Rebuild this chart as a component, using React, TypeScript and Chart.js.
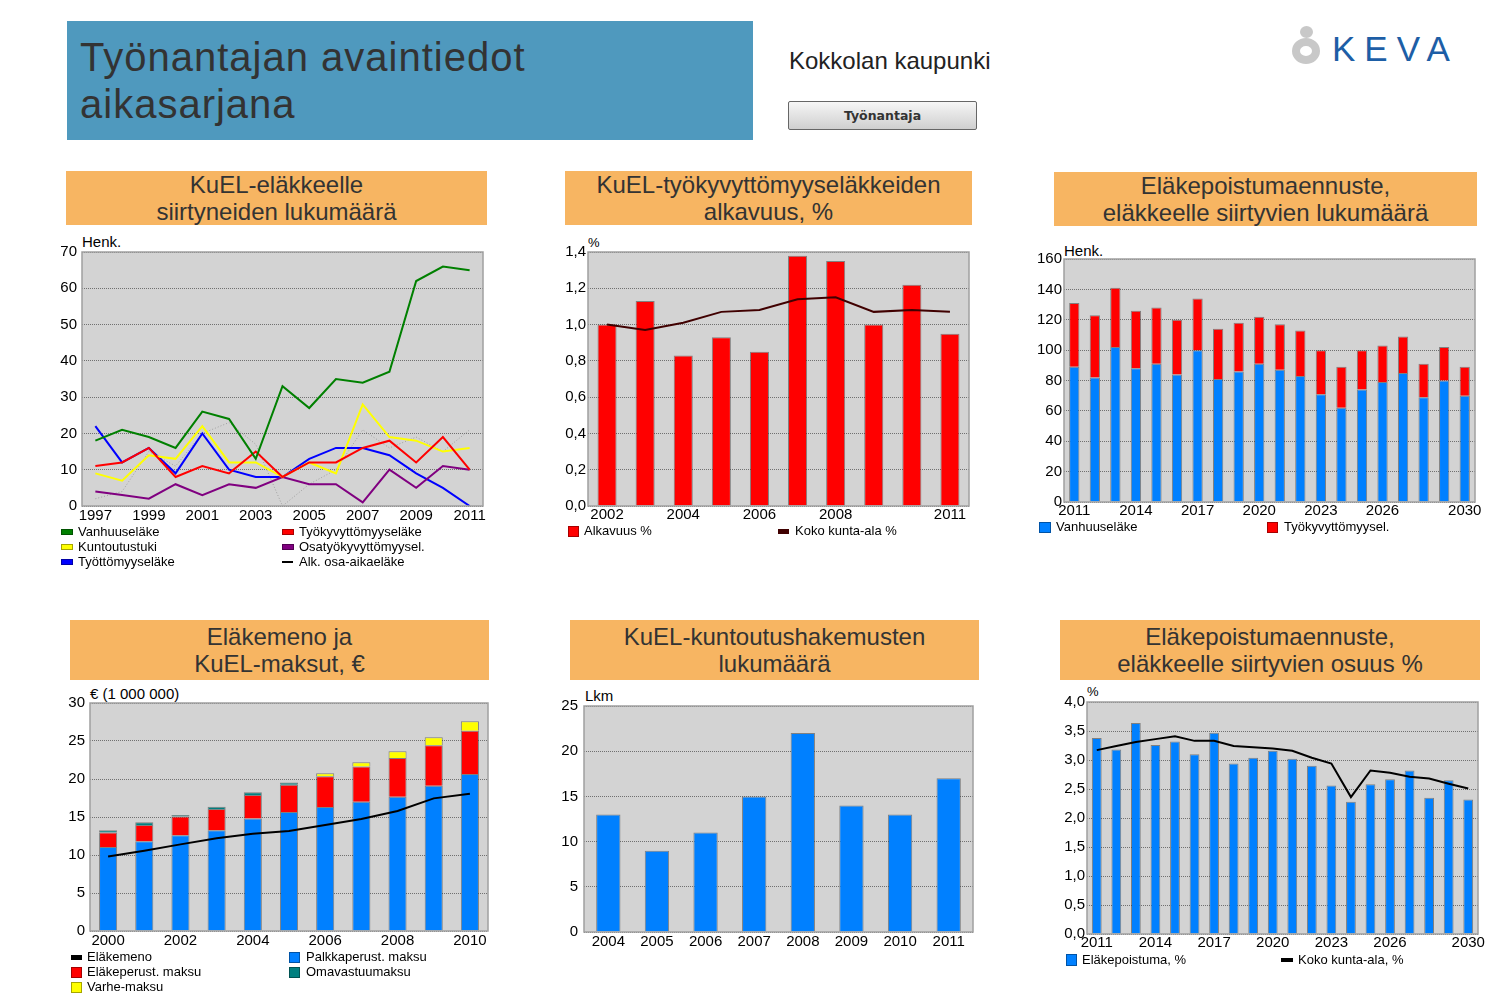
import React, { useEffect, useRef } from 'react';
import { Chart, registerables } from 'chart.js';
Chart.register(...registerables);

const FONT = '"Liberation Sans", Arial, sans-serif';

// ---------- Chart 1: KuEL-eläkkeelle siirtyneiden lukumäärä ----------
const years1 = ['1997','1998','1999','2000','2001','2002','2003','2004','2005','2006','2007','2008','2009','2010','2011'];
const ticks1 = ['1997','1999','2001','2003','2005','2007','2009','2011'];
const vanhuus1 = [18, 21, 19, 16, 26, 24, 13, 33, 27, 35, 34, 37, 62, 66, 65];
const tyokyv1 = [11, 12, 16, 8, 11, 9, 15, 8, 12, 12, 16, 18, 12, 19, 10];
const kuntoutus1 = [9, 7, 14, 13, 22, 12, 12, 8, 12, 9, 28, 19, 18, 15, 16];
const tyotto1 = [22, 12, 16, 9, 20, 10, 8, 8, 13, 16, 16, 14, 9, 5, 0];
const osatyo1 = [4, 3, 2, 6, 3, 6, 5, 8, 6, 6, 1, 10, 5, 11, 10];
const osaaika1 = [2, 4, 15, 11, 20, 23, 17, 0, 6, 10, 21, 16, 19, 15, 21];
const names1 = ['Vanhuuseläke', 'Työkyvyttömyyseläke', 'Kuntoutustuki', 'Osatyökyvyttömyysel.', 'Työttömyyseläke', 'Alk. osa-aikaeläke'];

// ---------- Chart 2: KuEL-työkyvyttömyyseläkkeiden alkavuus ----------
const years2 = ['2002','2003','2004','2005','2006','2007','2008','2009','2010','2011'];
const ticks2 = ['2002','2004','2006','2008','2011'];
const alkavuus2 = [1.0, 1.13, 0.83, 0.93, 0.85, 1.38, 1.35, 1.0, 1.22, 0.95];
const koko2 = [1.0, 0.97, 1.01, 1.07, 1.08, 1.14, 1.15, 1.07, 1.08, 1.07];
const names2 = ['Alkavuus %', 'Koko kunta-ala %'];

// ---------- Chart 3: Eläkepoistumaennuste, lukumäärä ----------
const years3 = ['2011','2012','2013','2014','2015','2016','2017','2018','2019','2020','2021','2022','2023','2024','2025','2026','2027','2028','2029','2030'];
const ticks3 = ['2011','2014','2017','2020','2023','2026','2030'];
const vanhuus3 = [89, 82, 102, 88, 91, 84, 100, 81, 86, 91, 87, 83, 71, 62, 74, 79, 85, 69, 80, 70];
const tyokyv3 = [42, 41, 39, 38, 37, 36, 34, 33, 32, 31, 30, 30, 29, 27, 26, 24, 24, 22, 22, 19];
const names3 = ['Vanhuuseläke', 'Työkyvyttömyysel.'];

// ---------- Chart 4: Eläkemeno ja KuEL-maksut ----------
const years4 = ['2000','2001','2002','2003','2004','2005','2006','2007','2008','2009','2010'];
const ticks4 = ['2000','2002','2004','2006','2008','2010'];
const palkka4 = [11.05, 11.8, 12.6, 13.25, 14.8, 15.65, 16.3, 17.0, 17.65, 19.1, 20.65];
const elakeper4 = [1.9, 2.15, 2.45, 2.8, 3.1, 3.6, 4.05, 4.65, 5.1, 5.35, 5.7];
const omavastuu4 = [0.3, 0.35, 0.2, 0.3, 0.35, 0.3, 0, 0, 0, 0, 0];
const varhe4 = [0, 0, 0, 0, 0, 0, 0.4, 0.55, 0.9, 1.05, 1.25];
const elakemeno4 = [9.8, 10.55, 11.4, 12.2, 12.8, 13.15, 13.95, 14.75, 15.8, 17.45, 18.05];
const names4 = ['Eläkemeno', 'Palkkaperust. maksu', 'Eläkeperust. maksu', 'Omavastuumaksu', 'Varhe-maksu'];

// ---------- Chart 5: KuEL-kuntoutushakemusten lukumäärä ----------
const years5 = ['2004','2005','2006','2007','2008','2009','2010','2011'];
const hakemukset5 = [13, 9, 11, 15, 22, 14, 13, 17];

// ---------- Chart 6: Eläkepoistumaennuste, osuus % ----------
const years6 = years3;
const ticks6 = ticks3;
const poistuma6 = [3.38, 3.18, 3.64, 3.26, 3.32, 3.10, 3.47, 2.94, 3.04, 3.16, 3.02, 2.90, 2.56, 2.28, 2.58, 2.67, 2.82, 2.35, 2.65, 2.32];
const koko6 = [3.17, 3.24, 3.31, 3.36, 3.41, 3.33, 3.33, 3.24, 3.22, 3.20, 3.16, 3.04, 2.94, 2.36, 2.82, 2.78, 2.71, 2.68, 2.59, 2.51];
const names6 = ['Eläkepoistuma, %', 'Koko kunta-ala, %'];

const BLUE = '#0080ff';
const RED = '#ff0000';
const BAR_BORDER = 'rgba(60,60,60,0.55)';

type Rect = [number, number, number, number];
const YW = 50, PT = 12, PR = 18, XH = 24;

const plotFrame = {
  id: 'plotFrame',
  beforeDraw(chart: any) {
    const { ctx, chartArea: a } = chart;
    ctx.save();
    ctx.fillStyle = '#d3d3d3';
    ctx.fillRect(a.left, a.top, a.right - a.left, a.bottom - a.top);
    ctx.restore();
  },
  afterDraw(chart: any) {
    const { ctx, chartArea: a } = chart;
    ctx.save();
    ctx.strokeStyle = '#a0a0a0';
    ctx.lineWidth = 1.5;
    ctx.strokeRect(a.left, a.top, a.right - a.left, a.bottom - a.top);
    ctx.restore();
  },
};

function opts(o: { yMax: number; yStep: number; yPad: number; xPad: number; labels: string[]; shown: string[]; stacked?: boolean; decimals?: boolean }) {
  return {
    responsive: false,
    maintainAspectRatio: false,
    animation: false,
    layout: { padding: { top: PT, right: PR, left: 0, bottom: 0 } },
    plugins: { legend: { display: false }, tooltip: { enabled: false } },
    scales: {
      x: {
        type: 'category',
        offset: true,
        stacked: !!o.stacked,
        grid: { display: false, drawTicks: false },
        border: { display: false },
        ticks: {
          autoSkip: false, maxRotation: 0, minRotation: 0, padding: o.xPad, color: '#000',
          font: { family: FONT, size: 15 },
          callback: (_v: any, i: number) => (o.shown.includes(o.labels[i]) ? o.labels[i] : ''),
        },
        afterFit: (s: any) => { s.height = XH; s.paddingLeft = 0; s.paddingRight = 0; },
      },
      y: {
        min: 0, max: o.yMax, stacked: !!o.stacked,
        ticks: {
          stepSize: o.yStep, padding: o.yPad, color: '#000', font: { family: FONT, size: 15 },
          callback: (v: any) => (o.decimals ? Number(v).toFixed(1).replace('.', ',') : String(Math.round(Number(v)))),
        },
        grid: { color: '#707070', lineWidth: 1, drawTicks: false },
        border: { display: false, dash: [1, 1] },
        afterFit: (s: any) => { s.width = YW; s.paddingTop = 0; s.paddingBottom = 0; },
      },
    },
  };
}

function ChartCanvas({ plot, build }: { plot: Rect; build: () => any }) {
  const ref = useRef<HTMLCanvasElement>(null);
  const [L, T, R, B] = plot;
  const w = R - L + YW + PR;
  const h = B - T + PT + XH;
  useEffect(() => {
    const cfg = build();
    cfg.plugins = [plotFrame];
    const chart = new Chart(ref.current as HTMLCanvasElement, cfg);
    return () => chart.destroy();
  }, []);
  return <canvas ref={ref} width={w} height={h} style={{ position: 'absolute', left: L - YW, top: T - PT, width: w, height: h }} />;
}

function Txt({ x, y, size, children, color = '#000', weight = 400, family = FONT }: any) {
  return (
    <div style={{ position: 'absolute', left: x, top: y - size * 0.6, fontSize: size, lineHeight: `${size * 1.2}px`, color, whiteSpace: 'nowrap', fontFamily: family, fontWeight: weight }}>
      {children}
    </div>
  );
}

function Leg({ bx, y, bw, bh, color, tx, label, border = true }: any) {
  return (
    <>
      <div style={{ position: 'absolute', left: bx, top: Math.round(y - bh / 2), width: bw, height: bh, background: color, border: border ? '1px solid rgba(0,0,0,0.35)' : 'none', boxSizing: 'border-box' }} />
      <Txt x={tx} y={y} size={13}>{label}</Txt>
    </>
  );
}

function PanelTitle({ x, y, w, h, lines }: any) {
  return (
    <div style={{ position: 'absolute', left: x, top: y, width: w, height: h, background: '#f7b562', display: 'flex', flexDirection: 'column', justifyContent: 'center', alignItems: 'center', fontFamily: FONT, fontSize: 24, lineHeight: '27px', color: '#333' }}>
      {lines.map((l: string, i: number) => <div key={i} style={{ whiteSpace: 'nowrap' }}>{l}</div>)}
    </div>
  );
}

const lineDs = (label: string, data: number[], color: string, extra: any = {}) => ({
  type: 'line', label, data, borderColor: color, backgroundColor: color, borderWidth: 2, pointRadius: 0, tension: 0, fill: false, ...extra,
});
const barDs = (label: string, data: number[], color: string, extra: any = {}) => ({
  type: 'bar', label, data, backgroundColor: color, borderColor: BAR_BORDER, borderWidth: 1, barPercentage: 0.5, categoryPercentage: 1, ...extra,
});

const C1: Rect = [82, 252, 483, 506];
const C2: Rect = [588, 252, 969, 506];
const C3: Rect = [1064, 259, 1475, 502];
const C4: Rect = [90, 703, 488, 931];
const C5: Rect = [584, 706, 973, 932];
const C6: Rect = [1087, 702, 1478, 934];

export default function App() {
  return (
    <div style={{ position: 'absolute', left: 0, top: 0, width: 1500, height: 1000, background: '#fff', overflow: 'hidden', fontFamily: FONT }}>
      {/* Header */}
      <div style={{ position: 'absolute', left: 67, top: 21, width: 686, height: 119, background: '#4f99be' }} />
      <div style={{ position: 'absolute', left: 80, top: 34, fontSize: 40, lineHeight: '47px', letterSpacing: 1, color: '#333', whiteSpace: 'nowrap' }}>
        Työnantajan avaintiedot<br />aikasarjana
      </div>
      <Txt x={789} y={61} size={24} color="#222">Kokkolan kaupunki</Txt>
      <div style={{ position: 'absolute', left: 788, top: 101, width: 189, height: 29, boxSizing: 'border-box', border: '1px solid #666', borderRadius: 2, background: 'linear-gradient(#f6f6f6, #cfcfcf)', display: 'flex', alignItems: 'center', justifyContent: 'center', fontFamily: '"DejaVu Sans", sans-serif', fontWeight: 700, fontSize: 12.5, color: '#333' }}>
        Työnantaja
      </div>
      {/* Logo */}
      <div style={{ position: 'absolute', left: 1300, top: 26, width: 13, height: 12, borderRadius: '50%', background: '#c8c8c8' }} />
      <div style={{ position: 'absolute', left: 1292, top: 38, width: 28, height: 26, borderRadius: '50%', border: '8px solid #c8c8c8', boxSizing: 'border-box' }} />
      <div style={{ position: 'absolute', left: 1332, top: 29, fontSize: 35, lineHeight: '40px', letterSpacing: 9, color: '#1d5ea6', fontFamily: FONT, whiteSpace: 'nowrap' }}>KEVA</div>

      {/* Panel titles */}
      <PanelTitle x={66} y={171} w={421} h={54} lines={['KuEL-eläkkeelle', 'siirtyneiden lukumäärä']} />
      <PanelTitle x={565} y={171} w={407} h={54} lines={['KuEL-työkyvyttömyyseläkkeiden', 'alkavuus, %']} />
      <PanelTitle x={1054} y={172} w={423} h={54} lines={['Eläkepoistumaennuste,', 'eläkkeelle siirtyvien lukumäärä']} />
      <PanelTitle x={70} y={620} w={419} h={60} lines={['Eläkemeno ja', 'KuEL-maksut, €']} />
      <PanelTitle x={570} y={620} w={409} h={60} lines={['KuEL-kuntoutushakemusten', 'lukumäärä']} />
      <PanelTitle x={1060} y={620} w={420} h={60} lines={['Eläkepoistumaennuste,', 'eläkkeelle siirtyvien osuus %']} />

      {/* Chart 1 */}
      <Txt x={82} y={242} size={15}>Henk.</Txt>
      <ChartCanvas plot={C1} build={() => ({
        type: 'line',
        data: {
          labels: years1,
          datasets: [
            lineDs(names1[0], vanhuus1, '#008000'),
            lineDs(names1[1], tyokyv1, '#ff0000'),
            lineDs(names1[2], kuntoutus1, '#ffff00'),
            lineDs(names1[3], osatyo1, '#800080'),
            lineDs(names1[4], tyotto1, '#0000ff'),
            lineDs(names1[5], osaaika1, '#a0a0a0', { borderWidth: 1, borderDash: [1, 2] }),
          ],
        },
        options: opts({ yMax: 70, yStep: 10, yPad: 5, xPad: 1, labels: years1, shown: ticks1 }),
      })} />
      <Leg bx={61} y={532} bw={12} bh={6} color="#008000" tx={78} label={names1[0]} />
      <Leg bx={282} y={532} bw={12} bh={6} color="#ff0000" tx={299} label={names1[1]} />
      <Leg bx={61} y={547} bw={12} bh={6} color="#ffff00" tx={78} label={names1[2]} />
      <Leg bx={282} y={547} bw={12} bh={6} color="#800080" tx={299} label={names1[3]} />
      <Leg bx={61} y={562} bw={12} bh={6} color="#0000ff" tx={78} label={names1[4]} />
      <Leg bx={282} y={562} bw={11} bh={2} color="#000" tx={299} label={names1[5]} border={false} />

      {/* Chart 2 */}
      <Txt x={588} y={243} size={13}>%</Txt>
      <ChartCanvas plot={C2} build={() => ({
        type: 'bar',
        data: {
          labels: years2,
          datasets: [
            lineDs(names2[1], koko2, '#400000', { order: 0 }),
            barDs(names2[0], alkavuus2, RED, { order: 1 }),
          ],
        },
        options: opts({ yMax: 1.4, yStep: 0.2, yPad: 2, xPad: 0, labels: years2, shown: ticks2, decimals: true }),
      })} />
      <Leg bx={568} y={531} bw={11} bh={11} color={RED} tx={584} label={names2[0]} />
      <Leg bx={778} y={531} bw={11} bh={5} color="#400000" tx={795} label={names2[1]} border={false} />

      {/* Chart 3 */}
      <Txt x={1064} y={251} size={15}>Henk.</Txt>
      <ChartCanvas plot={C3} build={() => ({
        type: 'bar',
        data: {
          labels: years3,
          datasets: [
            barDs(names3[0], vanhuus3, BLUE),
            barDs(names3[1], tyokyv3, RED),
          ],
        },
        options: opts({ yMax: 160, yStep: 20, yPad: 2, xPad: 0, labels: years3, shown: ticks3, stacked: true }),
      })} />
      <Leg bx={1039} y={527} bw={12} bh={11} color={BLUE} tx={1056} label={names3[0]} />
      <Leg bx={1267} y={527} bw={11} bh={11} color={RED} tx={1284} label={names3[1]} />

      {/* Chart 4 */}
      <Txt x={90} y={694} size={15}>€ (1 000 000)</Txt>
      <ChartCanvas plot={C4} build={() => ({
        type: 'bar',
        data: {
          labels: years4,
          datasets: [
            lineDs(names4[0], elakemeno4, '#000000', { order: 0, stack: 'meno' }),
            barDs(names4[1], palkka4, BLUE, { order: 1, stack: 'maksut' }),
            barDs(names4[2], elakeper4, RED, { order: 1, stack: 'maksut' }),
            barDs(names4[3], omavastuu4, '#008080', { order: 1, stack: 'maksut' }),
            barDs(names4[4], varhe4, '#ffff00', { order: 1, stack: 'maksut' }),
          ],
        },
        options: opts({ yMax: 30, yStep: 5, yPad: 5, xPad: 1, labels: years4, shown: ticks4, stacked: true }),
      })} />
      <Leg bx={71} y={957} bw={11} bh={5} color="#000" tx={87} label={names4[0]} border={false} />
      <Leg bx={289} y={957} bw={11} bh={11} color={BLUE} tx={306} label={names4[1]} />
      <Leg bx={71} y={972} bw={11} bh={11} color={RED} tx={87} label={names4[2]} />
      <Leg bx={289} y={972} bw={11} bh={11} color="#008080" tx={306} label={names4[3]} />
      <Leg bx={71} y={987} bw={11} bh={11} color="#ffff00" tx={87} label={names4[4]} />

      {/* Chart 5 */}
      <Txt x={585} y={696} size={15}>Lkm</Txt>
      <ChartCanvas plot={C5} build={() => ({
        type: 'bar',
        data: {
          labels: years5,
          datasets: [barDs('Lkm', hakemukset5, BLUE)],
        },
        options: opts({ yMax: 25, yStep: 5, yPad: 6, xPad: 1, labels: years5, shown: years5 }),
      })} />

      {/* Chart 6 */}
      <Txt x={1087} y={692} size={13}>%</Txt>
      <ChartCanvas plot={C6} build={() => ({
        type: 'bar',
        data: {
          labels: years6,
          datasets: [
            lineDs(names6[1], koko6, '#000000', { order: 0 }),
            barDs(names6[0], poistuma6, BLUE, { order: 1 }),
          ],
        },
        options: opts({ yMax: 4, yStep: 0.5, yPad: 2, xPad: 0, labels: years6, shown: ticks6, decimals: true }),
      })} />
      <Leg bx={1066} y={960} bw={11} bh={12} color={BLUE} tx={1082} label={names6[0]} />
      <Leg bx={1281} y={960} bw={12} bh={4} color="#000" tx={1298} label={names6[1]} border={false} />
    </div>
  );
}
